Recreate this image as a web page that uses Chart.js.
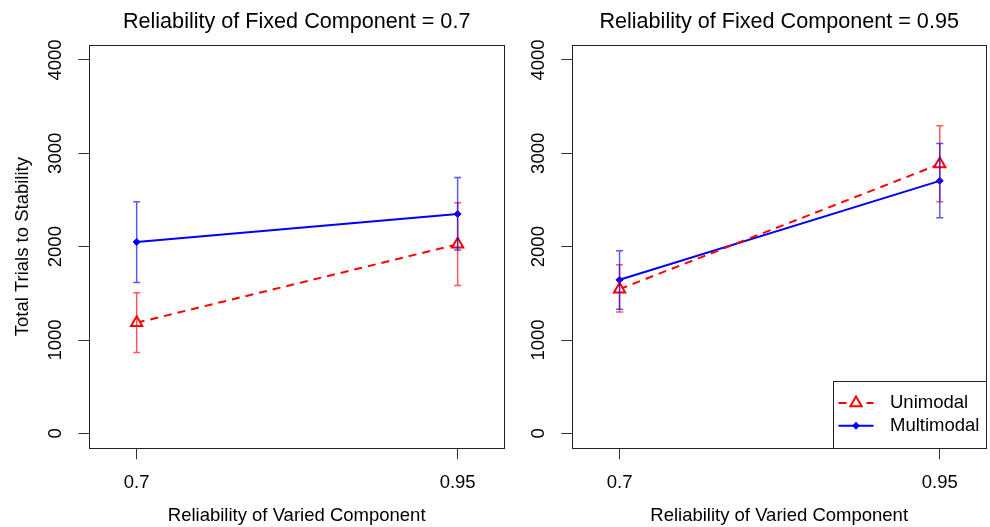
<!DOCTYPE html>
<html>
<head>
<meta charset="utf-8">
<script src="https://cdn.jsdelivr.net/npm/chart.js@4.4.0/dist/chart.umd.min.js"></script>
<style>
  html, body { margin: 0; padding: 0; background: #fff; }
  #wrap { position: relative; width: 990px; height: 527px; overflow: hidden; }
  canvas { position: absolute; top: 0; }
  #left { left: 0; }
  #right { left: 510px; }
</style>
</head>
<body>
<div id="wrap">
  <canvas id="left" width="530" height="527"></canvas>
  <canvas id="right" width="500" height="527"></canvas>
</div>
<script>
// x categories (reliability of varied component) and axis ticks
const xValues = [0.7, 0.95];
const xTickLabels = ['0.7', '0.95'];
const yTicks = [0, 1000, 2000, 3000, 4000];
const seriesNames = ['Unimodal', 'Multimodal'];

// panel 1: fixed component = 0.7
const uniFixed70 = [1185, 2025];
const uniFixed70Lo = [865, 1585];
const uniFixed70Hi = [1505, 2470];
const multiFixed70 = [2050, 2350];
const multiFixed70Lo = [1615, 1965];
const multiFixed70Hi = [2480, 2740];

// panel 2: fixed component = 0.95
const uniFixed95 = [1545, 2885];
const uniFixed95Lo = [1300, 2480];
const uniFixed95Hi = [1805, 3295];
const multiFixed95 = [1645, 2705];
const multiFixed95Lo = [1330, 2310];
const multiFixed95Hi = [1955, 3105];

const FONT = "'Liberation Sans', Arial, Helvetica, sans-serif";
const AXIS_SIZE = 18.5;
const px = (v) => Math.round(v) + 0.5;

function drawMarker(ctx, style, x, y) {
  ctx.beginPath();
  if (style === 'triangle') {
    const r = 6.5;
    ctx.moveTo(x, y - r);
    ctx.lineTo(x + r * Math.sin(2 * Math.PI / 3), y + r / 2);
    ctx.lineTo(x - r * Math.sin(2 * Math.PI / 3), y + r / 2);
    ctx.closePath();
    ctx.fillStyle = '#fff';
    ctx.fill();
    ctx.lineWidth = 2;
    ctx.stroke();
  } else {
    const r = 4;
    ctx.moveTo(x - r, y);
    ctx.lineTo(x, y - r);
    ctx.lineTo(x + r, y);
    ctx.lineTo(x, y + r);
    ctx.closePath();
    ctx.fill();
  }
}

// error bars, frame, rotated y labels (R style), optional legend
const rFrame = {
  id: 'rFrame',
  afterDatasetsDraw(chart) {
    const { ctx, scales: { x, y } } = chart;
    ctx.save();
    chart.data.datasets.forEach((ds) => {
      ctx.strokeStyle = ds.errColor;
      ctx.lineWidth = 1.5;
      ds.data.forEach((pt, i) => {
        const cx = x.getPixelForValue(pt.x);
        const lo = y.getPixelForValue(ds.errLo[i]);
        const hi = y.getPixelForValue(ds.errHi[i]);
        ctx.beginPath();
        ctx.moveTo(cx, lo); ctx.lineTo(cx, hi);
        ctx.moveTo(cx - 3.5, lo); ctx.lineTo(cx + 3.5, lo);
        ctx.moveTo(cx - 3.5, hi); ctx.lineTo(cx + 3.5, hi);
        ctx.stroke();
      });
    });
    ctx.restore();
  },
  afterDraw(chart, args, opts) {
    const { ctx, chartArea: a, scales: { y } } = chart;
    const L = px(a.left), R = px(a.right), T = px(a.top), B = px(a.bottom);
    ctx.save();
    ctx.strokeStyle = '#222';
    ctx.lineWidth = 1;
    ctx.strokeRect(L, T, R - L, B - T);

    ctx.fillStyle = '#000';
    ctx.font = AXIS_SIZE + 'px ' + FONT;
    ctx.textAlign = 'center';
    ctx.textBaseline = 'middle';
    yTicks.forEach((v) => {
      ctx.save();
      ctx.translate(a.left - 33, y.getPixelForValue(v));
      ctx.rotate(-Math.PI / 2);
      ctx.fillText(String(v), 0, 0);
      ctx.restore();
    });

    if (opts.legend) {
      const x0 = px(a.right - 153), y0 = px(a.bottom - 67);
      ctx.fillStyle = '#fff';
      ctx.fillRect(x0, y0, R - x0, B - y0);
      ctx.strokeStyle = '#222';
      ctx.strokeRect(x0, y0, R - x0, B - y0);
      chart.data.datasets.forEach((ds, i) => {
        const cy = y0 + 21.5 + i * 22.7;
        ctx.strokeStyle = ds.borderColor;
        ctx.fillStyle = ds.borderColor;
        ctx.lineWidth = 2;
        ctx.setLineDash(ds.borderDash || []);
        ctx.beginPath();
        ctx.moveTo(x0 + 5, cy); ctx.lineTo(x0 + 40, cy);
        ctx.stroke();
        ctx.setLineDash([]);
        drawMarker(ctx, ds.pointStyle, x0 + 22.5, cy);
        ctx.fillStyle = '#000';
        ctx.textAlign = 'left';
        ctx.fillText(ds.label, x0 + 56.5, cy);
      });
    }
    ctx.restore();
  }
};

function makePanel(id, title, uni, uniLo, uniHi, multi, multiLo, multiHi, cfg) {
  const ctx = document.getElementById(id).getContext('2d');
  return new Chart(ctx, {
    type: 'line',
    data: {
      datasets: [
        {
          label: seriesNames[0],
          data: xValues.map((x, i) => ({ x, y: uni[i] })),
          borderColor: '#ff0000',
          borderWidth: 2,
          borderDash: [8, 6],
          pointStyle: 'triangle',
          pointRadius: 6.5,
          pointBorderWidth: 2,
          pointBorderColor: '#ff0000',
          pointBackgroundColor: '#ffffff',
          errLo: uniLo,
          errHi: uniHi,
          errColor: 'rgba(255,0,0,0.65)'
        },
        {
          label: seriesNames[1],
          data: xValues.map((x, i) => ({ x, y: multi[i] })),
          borderColor: '#0000ff',
          borderWidth: 2,
          pointStyle: 'rectRot',
          pointRadius: 3.5,
          pointBorderWidth: 1,
          pointBorderColor: '#0000ff',
          pointBackgroundColor: '#0000ff',
          errLo: multiLo,
          errHi: multiHi,
          errColor: 'rgba(0,0,255,0.65)'
        }
      ]
    },
    options: {
      responsive: false,
      animation: false,
      devicePixelRatio: 1,
      layout: { padding: { left: 0, right: cfg.padRight, top: 0, bottom: 0 } },
      plugins: {
        legend: { display: false },
        tooltip: { enabled: false },
        title: {
          display: true,
          text: title,
          fullSize: false,
          color: '#000',
          font: { family: FONT, size: 21.6, weight: 'normal' },
          padding: { top: 9.5, bottom: 9.6 }
        },
        rFrame: { legend: cfg.legend }
      },
      scales: {
        x: {
          type: 'linear',
          min: 0.6631,
          max: 0.9861,
          afterBuildTicks: (s) => { s.ticks = xValues.map((v) => ({ value: v })); },
          afterFit: (s) => { s.height = 78.7; s.paddingLeft = 0; s.paddingRight = 0; },
          ticks: {
            autoSkip: false,
            maxRotation: 0,
            padding: 12.7,
            color: '#000',
            font: { family: FONT, size: AXIS_SIZE },
            callback: (v, i) => xTickLabels[i]
          },
          grid: { drawOnChartArea: false, drawTicks: true, tickLength: 11, color: '#333' },
          border: { display: false },
          title: {
            display: true,
            text: 'Reliability of Varied Component',
            color: '#000',
            font: { family: FONT, size: AXIS_SIZE },
            padding: { top: 0, bottom: 0 }
          }
        },
        y: {
          type: 'linear',
          min: -160,
          max: 4160,
          afterBuildTicks: (s) => { s.ticks = yTicks.map((v) => ({ value: v })); },
          afterFit: (s) => { s.width = cfg.boxLeft; s.paddingTop = 0; s.paddingBottom = 0; },
          ticks: { display: false },
          grid: { drawOnChartArea: false, drawTicks: true, tickLength: 11, color: '#333' },
          border: { display: false },
          title: {
            display: cfg.yTitle,
            text: 'Total Trials to Stability',
            color: '#000',
            font: { family: FONT, size: AXIS_SIZE },
            padding: { top: 12, bottom: 0 }
          }
        }
      }
    },
    plugins: [rFrame]
  });
}

makePanel('left', 'Reliability of Fixed Component = 0.7',
  uniFixed70, uniFixed70Lo, uniFixed70Hi, multiFixed70, multiFixed70Lo, multiFixed70Hi,
  { boxLeft: 89.3, padRight: 26, yTitle: true, legend: false });

makePanel('right', 'Reliability of Fixed Component = 0.95',
  uniFixed95, uniFixed95Lo, uniFixed95Hi, multiFixed95, multiFixed95Lo, multiFixed95Hi,
  { boxLeft: 62.3, padRight: 24, yTitle: false, legend: true });
</script>
</body>
</html>
